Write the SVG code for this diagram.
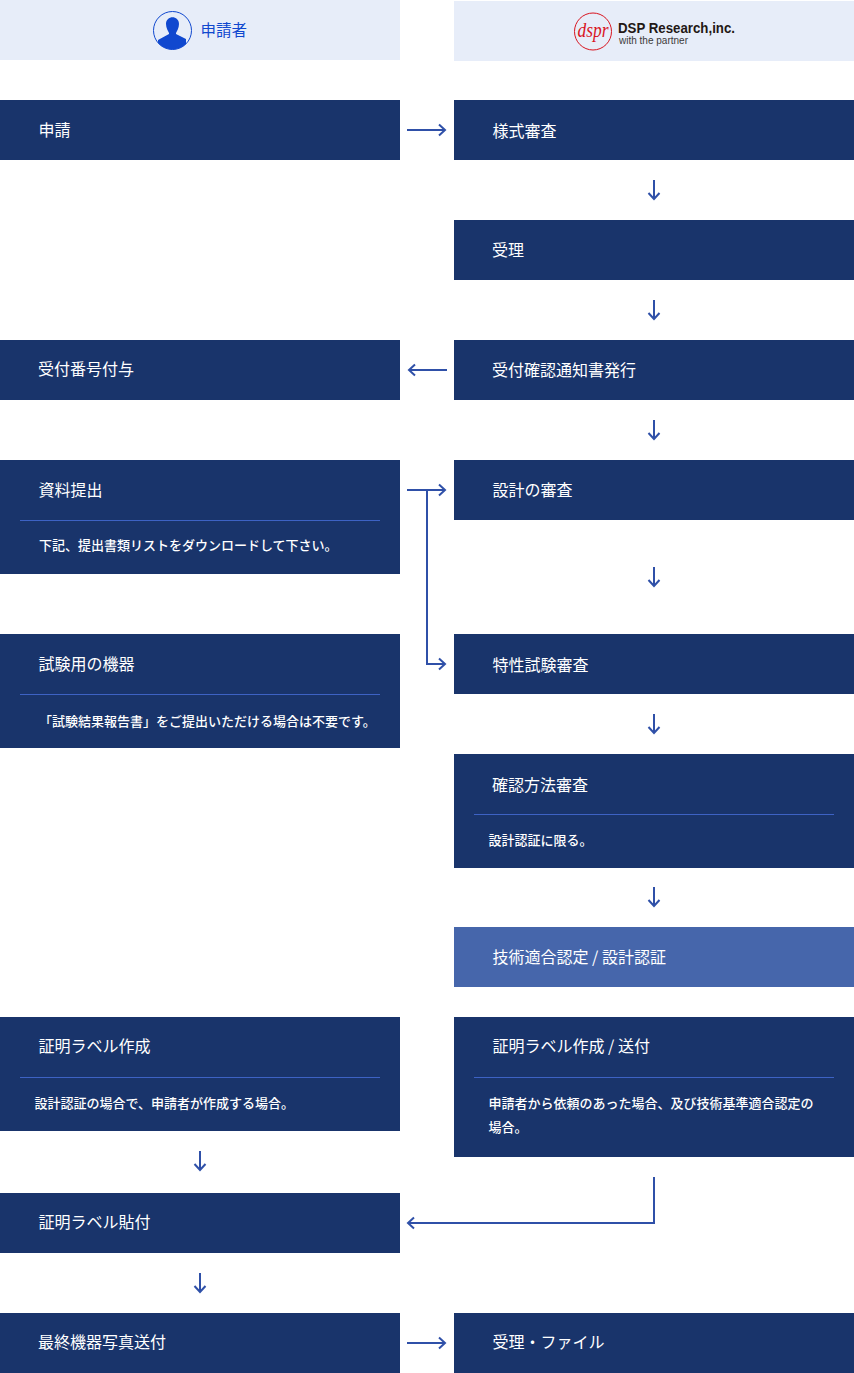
<svg xmlns="http://www.w3.org/2000/svg" width="854" height="1373" viewBox="0 0 854 1373">
<defs>
<style>
text{font-family:"Noto Sans CJK JP","Liberation Sans",sans-serif}
.b{fill:#19346b}
.h{fill:#e7edf9}
.t{fill:#fff;font-size:16px;font-weight:400}
.s{fill:#fff;font-size:13px;font-weight:500}
.d{stroke:#3d62c4;stroke-width:1;fill:none}
.c{stroke:#2f50a8;stroke-width:2;fill:none}
</style>
<marker id="a" markerUnits="userSpaceOnUse" markerWidth="14" markerHeight="16" refX="11" refY="8" orient="auto"><path d="M5 2.500L11 8L5 13.500" fill="none" stroke="#2f50a8" stroke-width="2"/></marker>
</defs>
<g id="connectors">
<path class="c" d="M407 130H445" marker-end="url(#a)"/>
<path class="c" d="M654 180V199" marker-end="url(#a)"/>
<path class="c" d="M654 300V319" marker-end="url(#a)"/>
<path class="c" d="M447 370H409" marker-end="url(#a)"/>
<path class="c" d="M654 420V439" marker-end="url(#a)"/>
<path class="c" d="M407 490H445" marker-end="url(#a)"/>
<path class="c" d="M427 490V664H445" marker-end="url(#a)"/>
<path class="c" d="M654 567V586" marker-end="url(#a)"/>
<path class="c" d="M654 714V733" marker-end="url(#a)"/>
<path class="c" d="M654 887V906" marker-end="url(#a)"/>
<path class="c" d="M200 1151V1170" marker-end="url(#a)"/>
<path class="c" d="M654 1177V1223H408" marker-end="url(#a)"/>
<path class="c" d="M200 1273V1292" marker-end="url(#a)"/>
<path class="c" d="M407 1343H445" marker-end="url(#a)"/>
</g>
<g id="header-applicant">
<rect class="h" x="0" y="0" width="400" height="60"/>
<clipPath id="cp"><circle cx="172.500" cy="30.500" r="19"/></clipPath>
<circle cx="172.500" cy="30.500" r="19" fill="#fff" stroke="#1048cf" stroke-width="1" fill-opacity="0"/>
<path clip-path="url(#cp)" fill="#1048cf" d="M166 24C166 15 179 15 179 24C179 28 177 31 176 33V34L186 39V51H158V40L169 34V33C168 31 166 28 166 24Z"/>
<text x="200.500" y="36" fill="#1048cf" style="font-size:15.500px;font-weight:400">申請者</text>
</g>
<g id="header-dsp">
<rect class="h" x="454" y="1" width="400" height="60"/>
<circle cx="593" cy="31.500" r="18.500" fill="none" stroke="#d9141f" stroke-width="1"/>
<text x="593" y="37" text-anchor="middle" style="font-family:'Liberation Serif',serif;font-style:italic;font-size:21px" fill="#d9141f" textLength="31" lengthAdjust="spacingAndGlyphs">dspr</text>
<text x="618" y="33" style="font-family:'Liberation Sans',sans-serif;font-weight:700;font-size:14px" fill="#231815" textLength="117" lengthAdjust="spacingAndGlyphs">DSP Research,inc.</text>
<text x="619" y="43.500" style="font-family:'Liberation Sans',sans-serif;font-size:10px" fill="#3c3a3a" textLength="69" lengthAdjust="spacingAndGlyphs">with the partner</text>
</g>
<g id="n1"><rect class="b" x="0" y="100" width="400" height="60"/><text class="t" x="38.500" y="136">申請</text></g>
<g id="n2"><rect class="b" x="454" y="100" width="400" height="60"/><text class="t" x="492.500" y="137">様式審査</text></g>
<g id="n3"><rect class="b" x="454" y="220" width="400" height="60"/><text class="t" x="492" y="256">受理</text></g>
<g id="n4"><rect class="b" x="0" y="340" width="400" height="60"/><text class="t" x="38" y="375">受付番号付与</text></g>
<g id="n5"><rect class="b" x="454" y="340" width="400" height="60"/><text class="t" x="492" y="376">受付確認通知書発行</text></g>
<g id="n6"><rect class="b" x="0" y="460" width="400" height="114"/><text class="t" x="38.500" y="495.500">資料提出</text><path class="d" d="M20 520.500H380"/><text class="s" x="39" y="550">下記、提出書類リストをダウンロードして下さい。</text></g>
<g id="n7"><rect class="b" x="454" y="460" width="400" height="60"/><text class="t" x="492.500" y="496">設計の審査</text></g>
<g id="n8"><rect class="b" x="0" y="634" width="400" height="114"/><text class="t" x="38.500" y="669.500">試験用の機器</text><path class="d" d="M20 694.500H380"/><text class="s" x="39" y="726">「試験結果報告書」をご提出いただける場合は不要です。</text></g>
<g id="n9"><rect class="b" x="454" y="634" width="400" height="60"/><text class="t" x="492.500" y="670.500">特性試験審査</text></g>
<g id="n10"><rect class="b" x="454" y="754" width="400" height="114"/><text class="t" x="492" y="791">確認方法審査</text><path class="d" d="M474 814.500H834"/><text class="s" x="488.500" y="845">設計認証に限る。</text></g>
<g id="n11"><rect x="454" y="927" width="400" height="60" fill="#4666ab"/><text class="t" x="492.500" y="962.500">技術適合認定 / 設計認証</text></g>
<g id="n12"><rect class="b" x="0" y="1017" width="400" height="114"/><text class="t" x="38.500" y="1052">証明ラベル作成</text><path class="d" d="M20 1077.500H380"/><text class="s" x="34.500" y="1108">設計認証の場合で、申請者が作成する場合。</text></g>
<g id="n13"><rect class="b" x="454" y="1017" width="400" height="140"/><text class="t" x="492.500" y="1052">証明ラベル作成 / 送付</text><path class="d" d="M474 1077.500H834"/><text class="s" x="488.500" y="1108">申請者から依頼のあった場合、及び技術基準適合認定の</text><text class="s" x="488.500" y="1132">場合。</text></g>
<g id="n14"><rect class="b" x="0" y="1193" width="400" height="60"/><text class="t" x="38.500" y="1228">証明ラベル貼付</text></g>
<g id="n15"><rect class="b" x="0" y="1313" width="400" height="60"/><text class="t" x="38" y="1348">最終機器写真送付</text></g>
<g id="n16"><rect class="b" x="454" y="1313" width="400" height="60"/><text class="t" x="492.500" y="1348">受理・ファイル</text></g>
</svg>
